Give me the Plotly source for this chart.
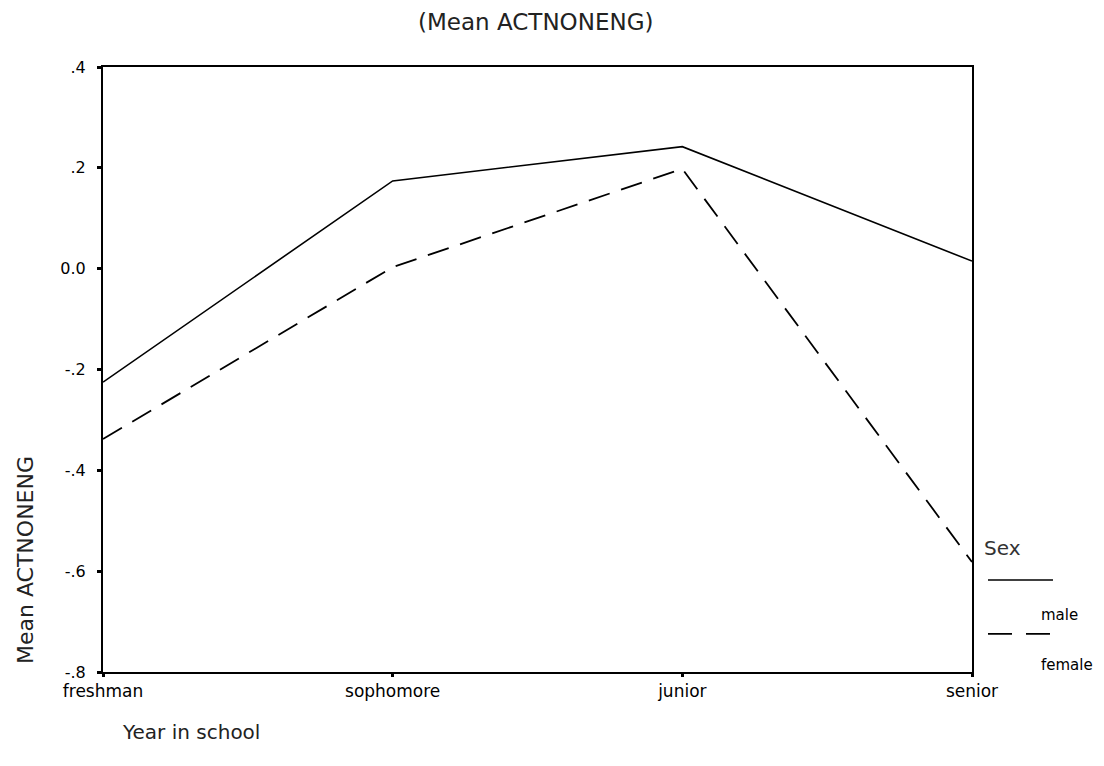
import plotly.graph_objects as go

years = ["freshman", "sophomore", "junior", "senior"]
year_labels = ["freshman", "sophomore", "junior", "senior"]
male = [-0.225, 0.174, 0.242, 0.015]
female = [-0.338, 0.003, 0.198, -0.582]
y_ticks = [0.4, 0.2, 0.0, -0.2, -0.4, -0.6, -0.8]
y_tick_text = [".4", ".2", "0.0", "-.2", "-.4", "-.6", "-.8"]

fig = go.Figure()
fig.add_trace(go.Scatter(x=years, y=male, mode="lines", name="male",
                         line=dict(color="black", width=1.6), showlegend=False))
fig.add_trace(go.Scatter(x=years, y=female, mode="lines", name="female",
                         line=dict(color="black", width=1.8, dash="22px,12px"), showlegend=False))

ytick_font = dict(family="DejaVu Sans", size=16, color="black")
xtick_font = dict(family="DejaVu Sans", size=17, color="black")
legend_font = dict(family="DejaVu Sans", size=15, color="black")

fig.update_layout(
    width=1096, height=758,
    margin=dict(l=95, r=132, t=59, b=94),
    paper_bgcolor="white", plot_bgcolor="white",
    xaxis=dict(type="category", categoryorder="array", categoryarray=years,
               tickvals=years, ticktext=year_labels, range=[0, 3],
               showline=True, linecolor="black", linewidth=2, mirror=True,
               ticks="outside", ticklen=3, tickwidth=3, tickcolor="black",
               showgrid=False, zeroline=False, tickfont=xtick_font),
    yaxis=dict(range=[-0.8, 0.4], tickvals=y_ticks, ticktext=y_tick_text,
               showline=True, linecolor="black", linewidth=2, mirror=True,
               ticks="outside", ticklen=4, tickwidth=3, tickcolor="black",
               ticklabelstandoff=8,
               showgrid=False, zeroline=False, tickfont=ytick_font),
)

# Title
fig.add_annotation(text="(Mean ACTNONENG)", xref="paper", yref="paper", x=0.498, y=1.074,
                   xanchor="center", yanchor="middle", showarrow=False,
                   font=dict(family="DejaVu Sans", size=23, color="#222"))
# Axis titles
fig.add_annotation(text="Year in school", xref="paper", yref="paper", x=0.0196, y=-0.099,
                   xanchor="left", yanchor="middle", showarrow=False,
                   font=dict(family="DejaVu Sans", size=20, color="#222"))
fig.add_annotation(text="Mean ACTNONENG", xref="paper", yref="paper", x=-0.0898, y=0.185,
                   xanchor="center", yanchor="middle", textangle=-90, showarrow=False,
                   font=dict(family="DejaVu Sans", size=22, color="#222"))

# Custom legend
fig.add_annotation(text="Sex", xref="paper", yref="paper", x=1.0115, y=0.205,
                   xanchor="left", yanchor="middle", showarrow=False,
                   font=dict(family="DejaVu Sans", size=20, color="#333"))
fig.add_shape(type="line", xref="paper", yref="paper", x0=1.0184, x1=1.0932, y0=0.152, y1=0.152,
              line=dict(color="black", width=1.6))
fig.add_annotation(text="male", xref="paper", yref="paper", x=1.077, y=0.094,
                   xanchor="left", yanchor="middle", showarrow=False, font=legend_font)
fig.add_shape(type="line", xref="paper", yref="paper", x0=1.0184, x1=1.090, y0=0.063, y1=0.063,
              line=dict(color="black", width=1.8, dash="24px,14px"))
fig.add_annotation(text="female", xref="paper", yref="paper", x=1.077, y=0.012,
                   xanchor="left", yanchor="middle", showarrow=False, font=legend_font)

fig.write_html("out.html")
